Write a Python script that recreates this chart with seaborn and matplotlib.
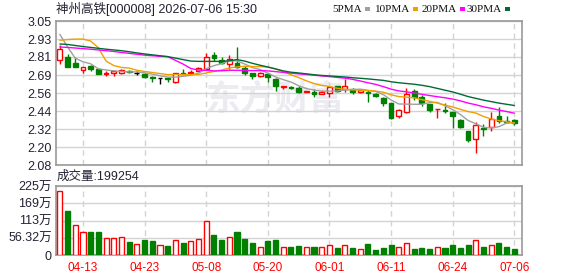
import numpy as np
import pandas as pd
import matplotlib.pyplot as plt
import seaborn as sns
from matplotlib.patches import Rectangle

sns.set_style('white')
plt.rcParams['font.family'] = ['Liberation Sans', 'Noto Sans CJK SC', 'DejaVu Sans']

## Data (60 trading days, prices in yuan, volume in 万)
tick_pos = [3, 11, 19, 27, 35, 43, 51, 59]
tick_labels = ['04-13', '04-23', '05-08', '05-20', '06-01', '06-11', '06-24', '07-06']

opens = [2.79, 2.81, 2.77, 2.72, 2.75, 2.73, 2.695, 2.70, 2.70, 2.71,
         2.70, 2.69, 2.67, 2.665, 2.665, 2.64, 2.70, 2.70, 2.71, 2.73,
         2.82, 2.79, 2.76, 2.77, 2.735, 2.70, 2.68, 2.695, 2.66, 2.605,
         2.605, 2.60, 2.575, 2.575, 2.56, 2.565, 2.61, 2.59, 2.59, 2.575,
         2.57, 2.56, 2.53, 2.50, 2.41, 2.44, 2.58, 2.54, 2.49, 2.455,
         2.45, 2.435, 2.38, 2.31, 2.255, 2.33, 2.335, 2.41, 2.375, 2.38]
highs = [2.89, 2.83, 2.81, 2.74, 2.755, 2.73, 2.71, 2.72, 2.73, 2.72,
         2.71, 2.70, 2.68, 2.665, 2.67, 2.70, 2.73, 2.72, 2.74, 2.835,
         2.84, 2.81, 2.82, 2.875, 2.745, 2.70, 2.705, 2.70, 2.665, 2.61,
         2.61, 2.61, 2.58, 2.59, 2.585, 2.61, 2.615, 2.66, 2.60, 2.595,
         2.585, 2.565, 2.535, 2.50, 2.46, 2.60, 2.595, 2.55, 2.49, 2.46,
         2.50, 2.44, 2.39, 2.31, 2.37, 2.355, 2.44, 2.47, 2.41, 2.39]
lows = [2.76, 2.74, 2.74, 2.70, 2.71, 2.69, 2.68, 2.68, 2.69, 2.70,
        2.685, 2.665, 2.64, 2.625, 2.64, 2.635, 2.69, 2.69, 2.71, 2.72,
        2.78, 2.76, 2.73, 2.735, 2.685, 2.66, 2.675, 2.64, 2.58, 2.59,
        2.595, 2.565, 2.57, 2.54, 2.56, 2.54, 2.575, 2.57, 2.56, 2.565,
        2.505, 2.535, 2.48, 2.39, 2.395, 2.43, 2.52, 2.48, 2.44, 2.395,
        2.43, 2.33, 2.33, 2.235, 2.16, 2.275, 2.31, 2.36, 2.36, 2.35]
closes = [2.86, 2.74, 2.74, 2.74, 2.73, 2.69, 2.70, 2.71, 2.72, 2.705,
          2.70, 2.67, 2.665, 2.665, 2.66, 2.70, 2.695, 2.705, 2.735, 2.81,
          2.80, 2.765, 2.795, 2.74, 2.70, 2.68, 2.70, 2.675, 2.61, 2.61,
          2.60, 2.575, 2.58, 2.56, 2.57, 2.605, 2.58, 2.61, 2.575, 2.585,
          2.565, 2.545, 2.50, 2.395, 2.45, 2.56, 2.54, 2.50, 2.45, 2.46,
          2.445, 2.41, 2.335, 2.25, 2.35, 2.325, 2.39, 2.375, 2.37, 2.365]

ma5 = [2.96, 2.875, 2.80, 2.775, 2.762, 2.728, 2.72, 2.714, 2.71, 2.707,
       2.707, 2.701, 2.692, 2.681, 2.672, 2.672, 2.677, 2.685, 2.699, 2.729,
       2.749, 2.763, 2.781, 2.782, 2.76, 2.736, 2.723, 2.699, 2.673, 2.655,
       2.639, 2.614, 2.595, 2.585, 2.577, 2.578, 2.579, 2.585, 2.588, 2.591,
       2.583, 2.576, 2.554, 2.518, 2.491, 2.49, 2.489, 2.489, 2.50, 2.502,
       2.479, 2.453, 2.42, 2.38, 2.358, 2.334, 2.33, 2.338, 2.362, 2.365]
ma10 = [2.92, 2.925, 2.928, 2.928, 2.915, 2.87, 2.78, 2.75, 2.737, 2.733,
        2.718, 2.71, 2.703, 2.696, 2.689, 2.69, 2.689, 2.689, 2.69, 2.70,
        2.71, 2.72, 2.733, 2.741, 2.745, 2.743, 2.743, 2.74, 2.728, 2.708,
        2.688, 2.669, 2.647, 2.629, 2.616, 2.609, 2.597, 2.59, 2.587, 2.584,
        2.581, 2.578, 2.57, 2.553, 2.541, 2.537, 2.533, 2.52, 2.509, 2.497,
        2.484, 2.471, 2.455, 2.44, 2.43, 2.407, 2.39, 2.379, 2.371, 2.362]
ma20 = [2.875, 2.872, 2.868, 2.864, 2.86, 2.855, 2.85, 2.845, 2.838, 2.832,
        2.826, 2.82, 2.816, 2.812, 2.81, 2.785, 2.76, 2.73, 2.72, 2.717,
        2.714, 2.715, 2.718, 2.718, 2.717, 2.716, 2.716, 2.714, 2.709, 2.704,
        2.699, 2.694, 2.69, 2.685, 2.68, 2.676, 2.67, 2.665, 2.657, 2.646,
        2.634, 2.623, 2.608, 2.591, 2.579, 2.573, 2.565, 2.556, 2.548, 2.54,
        2.533, 2.524, 2.512, 2.497, 2.486, 2.472, 2.462, 2.45, 2.44, 2.429]
ma30 = [2.895, 2.892, 2.885, 2.878, 2.872, 2.866, 2.86, 2.855, 2.85, 2.843,
        2.835, 2.828, 2.822, 2.816, 2.81, 2.80, 2.79, 2.78, 2.778, 2.778,
        2.778, 2.778, 2.782, 2.79, 2.78, 2.765, 2.752, 2.74, 2.727, 2.714,
        2.705, 2.70, 2.694, 2.688, 2.683, 2.68, 2.676, 2.673, 2.668, 2.664,
        2.66, 2.655, 2.65, 2.641, 2.634, 2.629, 2.624, 2.617, 2.608, 2.596,
        2.584, 2.572, 2.557, 2.541, 2.529, 2.517, 2.507, 2.497, 2.489, 2.481]

volume = [209, 145, 98, 74, 75, 75, 55, 55, 59, 42,
          36, 49, 46, 33, 29, 48, 39, 46, 52, 111,
          65, 49, 59, 75, 52, 39, 26, 46, 49, 26,
          26, 29, 26, 26, 26, 33, 23, 33, 23, 20,
          36, 16, 23, 33, 26, 39, 20, 23, 20, 26,
          23, 33, 23, 33, 49, 26, 33, 39, 26, 19.93]
vol_up = ['r', 'g', 'r', 'r', 'g', 'g', 'r', 'r', 'r', 'g',
          'r', 'g', 'g', 'r', 'g', 'r', 'g', 'r', 'r', 'r',
          'g', 'g', 'r', 'g', 'g', 'g', 'r', 'g', 'g', 'r',
          'g', 'g', 'r', 'g', 'r', 'r', 'g', 'r', 'g', 'r',
          'g', 'g', 'g', 'g', 'r', 'r', 'g', 'g', 'g', 'r',
          'g', 'g', 'g', 'g', 'r', 'g', 'r', 'g', 'g', 'g']

price_ticks = ['3.05', '2.93', '2.81', '2.69', '2.56', '2.44', '2.32', '2.20', '2.08']
vol_ticks = ['0', '56.32万', '113万', '169万', '225万']

RED = '#ff0000'
GREEN = '#008000'
GRID = '#d3d3d3'
SPINE = '#999999'
TXT = '#222233'

df = pd.DataFrame({'idx': np.arange(len(closes)), 'open': opens, 'high': highs,
                   'low': lows, 'close': closes, 'ma5': ma5, 'ma10': ma10,
                   'ma20': ma20, 'ma30': ma30, 'vol': volume, 'vcol': vol_up})

fig = plt.figure(figsize=(5.78, 2.76), dpi=100)
ax = fig.add_axes([56/578, 111/276, 466/578, 144/276])
axv = fig.add_axes([56/578, 21/276, 466/578, 69/276])

# watermark
ax.text(0.47, 0.46, '东方财富', transform=ax.transAxes, fontsize=25, fontweight='bold',
        color='#ebebf0', ha='center', va='center', family=['Noto Sans CJK SC'], zorder=0)

## Candles
w = 0.62
for r in df.itertuples():
    i = r.idx
    if r.close > r.open:
        ax.vlines(i, r.low, r.open, color=RED, lw=1, zorder=3)
        ax.vlines(i, r.close, r.high, color=RED, lw=1, zorder=3)
        ax.add_patch(Rectangle((i - w/2, r.open), w, r.close - r.open, facecolor='white',
                               edgecolor=RED, lw=1, zorder=3))
    elif r.close < r.open:
        ax.vlines(i, r.low, r.high, color=GREEN, lw=1, zorder=3)
        ax.add_patch(Rectangle((i - w/2, r.close), w, r.open - r.close, facecolor=GREEN,
                               edgecolor=GREEN, lw=1, zorder=3))
    else:
        ax.vlines(i, r.low, r.high, color='black', lw=1, zorder=3)
        ax.hlines(r.close, i - w/2, i + w/2, color='black', lw=1, zorder=3)

## Moving averages
ma_colors = {'ma5': '#a0a0a0', 'ma10': '#f0a000', 'ma20': '#ff00ff', 'ma30': '#006a34'}
for col, c in ma_colors.items():
    sns.lineplot(data=df, x='idx', y=col, color=c, lw=1, ax=ax, zorder=4)

ax.set_xlim(-0.5, 60.0)
ax.set_ylim(2.08, 3.05)
ax.set_yticks(np.linspace(3.05, 2.08, 9))
ax.set_yticklabels(price_ticks)
ax.set_xticks(tick_pos)
ax.set_xticklabels([])
ax.set_xlabel('')
ax.set_ylabel('')

## Volume
for r in df.itertuples():
    if r.vcol == 'r':
        axv.bar(r.idx, r.vol, width=0.66, facecolor='white', edgecolor=RED, lw=1, zorder=3)
    else:
        axv.bar(r.idx, r.vol, width=0.66, facecolor=GREEN, edgecolor=GREEN, lw=1, zorder=3)
axv.set_xlim(-0.5, 60.0)
axv.set_ylim(0, 225)
axv.set_yticks(np.linspace(0, 225, 5))
axv.set_yticklabels(vol_ticks)
axv.set_xticks(tick_pos)
axv.set_xticklabels(tick_labels, color=RED, fontsize=8.5)

for a in (ax, axv):
    a.grid(axis='y', color=GRID, lw=1, ls='-', zorder=0)
    a.grid(axis='x', color=GRID, lw=1, ls=(0, (4, 3)), zorder=0)
    a.set_axisbelow(True)
    a.tick_params(length=0, pad=3, labelsize=9, labelcolor=TXT)
    for s in a.spines.values():
        s.set_color(SPINE)
        s.set_linewidth(1.2)
axv.tick_params(axis='x', labelcolor=RED, labelsize=8.5, pad=5)

## Header texts
fig.text(56/578, 1 - 9/276, '神州高铁[000008] 2026-07-06 15:30', fontsize=9, color=TXT,
         ha='left', va='center')
fig.text(57/578, 1 - 177/276, '成交量:199254', fontsize=9, color=TXT, ha='left', va='center')

# legend: label text ends just before its colour square
leg_labels = ['5PMA', '10PMA', '20PMA', '30PMA']
leg_colors = ['#a0a0a0', '#f0a000', '#ff00ff', '#006a34']
leg_sq = [365, 413, 460, 505]
for lab, c, xs in zip(leg_labels, leg_colors, leg_sq):
    fig.text((xs - 3)/578, 1 - 9/276, lab, fontsize=8, color='#111111', ha='right',
             va='center', family=['Liberation Serif'])
    fig.patches.append(Rectangle((xs/578, 1 - 11/276), 5/578, 4/276, facecolor=c,
                                 edgecolor='none', transform=fig.transFigure, figure=fig))

fig.savefig('out.png', dpi=100, facecolor='white')
